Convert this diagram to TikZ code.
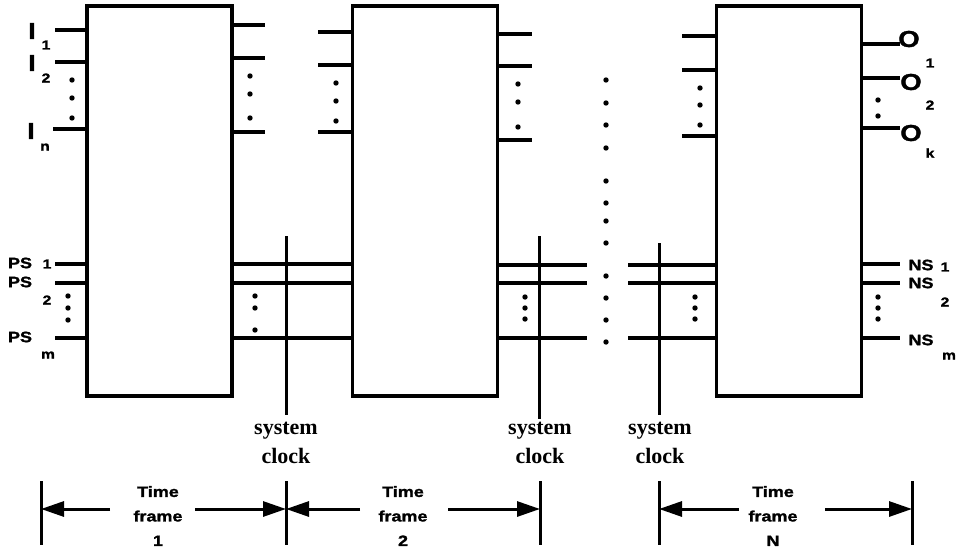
\documentclass[tikz,border=0pt]{standalone}
\usepackage{fontspec}
\setmainfont{Liberation Serif}
\newfontfamily\hv[FakeStretch=1.2,FakeBold=1.5]{Liberation Sans}
\usetikzlibrary{arrows.meta}
\begin{document}
\begin{tikzpicture}[x=1pt,y=-1pt,
  blk/.style={draw,line width=3.2pt,minimum width=145pt,minimum height=390pt,inner sep=0pt},
  pin/.style={line width=3.2pt},
  clk/.style={line width=3pt},
  lbl/.style={font=\hv\bfseries\fontsize{15}{15}\selectfont,inner sep=0pt},
  big/.style={font=\hv\bfseries\fontsize{23}{23}\selectfont,inner sep=0pt},
  subs/.style={font=\hv\bfseries\fontsize{13}{13}\selectfont,inner sep=0pt},
  clktxt/.style={font=\bfseries\fontsize{22}{29}\selectfont,align=center,inner sep=0pt},
  tftxt/.style={font=\hv\bfseries\fontsize{15}{24.5}\selectfont,align=center,inner sep=0pt},
  span/.style={line width=3pt,-{Triangle[length=23pt,width=15pt]}},
  dotr/.style={radius=2.7pt},
]
\useasboundingbox (0,0) rectangle (959,552);

% the three time-frame blocks
\node[blk] (b1) at (159.5,201) {};
\node[blk] (b2) at (425,201) {};
\node[blk] (b3) at (789,201) {};

% primary inputs of frame 1
\coordinate (i1) at (55,30);
\coordinate (i2) at (55,62);
\coordinate (in) at (53,129);
\foreach \c in {i1,i2,in} \draw[pin] (b1.west |- \c) -- (\c);
\node[big] (li1) at (32,31) {I};  \node[subs] (si1) at (46,45) {1};
\node[big] (li2) at (32,63) {I};  \node[subs] (si2) at (46,78) {2};
\node[big] (lin) at (31,131) {I}; \node[subs] (sin) at (45,147) {n};
\foreach \y in {80,98,118} \fill[dotr] (72,\y) circle;

% outputs of frame 1
\coordinate (p1a) at (265,25);
\coordinate (p1b) at (265,58);
\coordinate (p1c) at (265,132);
\foreach \c in {p1a,p1b,p1c} \draw[pin] (b1.east |- \c) -- (\c);
\foreach \y in {76,94,118} \fill[dotr] (250,\y) circle;

% inputs of frame 2
\coordinate (q2a) at (318,32);
\coordinate (q2b) at (318,65);
\coordinate (q2c) at (318,132);
\foreach \c in {q2a,q2b,q2c} \draw[pin] (b2.west |- \c) -- (\c);
\foreach \y in {83,101,121} \fill[dotr] (336,\y) circle;

% outputs of frame 2
\coordinate (p2a) at (532,34);
\coordinate (p2b) at (532,66);
\coordinate (p2c) at (532,140);
\foreach \c in {p2a,p2b,p2c} \draw[pin] (b2.east |- \c) -- (\c);
\foreach \y in {84,102,127} \fill[dotr] (518,\y) circle;

% inputs of frame N
\coordinate (q3a) at (682,36);
\coordinate (q3b) at (682,70);
\coordinate (q3c) at (682,136);
\foreach \c in {q3a,q3b,q3c} \draw[pin] (b3.west |- \c) -- (\c);
\foreach \y in {88,105,125} \fill[dotr] (700,\y) circle;

% primary outputs of frame N
\coordinate (o1) at (900,44);
\coordinate (o2) at (900,78);
\coordinate (ok) at (900,128);
\foreach \c in {o1,o2,ok} \draw[pin] (b3.east |- \c) -- (\c);
\node[big] (lo1) at (909,39) {O};  \node[subs] (so1) at (930,63) {1};
\node[big] (lo2) at (911,82) {O};  \node[subs] (so2) at (930,105) {2};
\node[big] (lok) at (911,133) {O}; \node[subs] (sok) at (930,153) {k};
\foreach \y in {100,116} \fill[dotr] (878,\y) circle;

% present-state lines of frame 1
\coordinate (ps1) at (55,264);
\coordinate (ps2) at (55,283);
\coordinate (psm) at (55,338);
\foreach \c in {ps1,ps2,psm} \draw[pin] (b1.west |- \c) -- (\c);
\node[lbl] (lps1) at (20,263) {PS}; \node[subs] (sps1) at (47,264) {1};
\node[lbl] (lps2) at (20,282) {PS}; \node[subs] (sps2) at (47,300) {2};
\node[lbl] (lpsm) at (20,337) {PS}; \node[subs] (spsm) at (48,355) {m};
\foreach \y in {296,308,320} \fill[dotr] (68,\y) circle;

% state lines from frame 1 to frame 2
\foreach \y in {264,283,338} \draw[pin] (b1.east |- 0,\y) -- (b2.west |- 0,\y);
\foreach \y in {296,308,330} \fill[dotr] (255,\y) circle;

% state lines leaving frame 2
\coordinate (s2a) at (587,265);
\coordinate (s2b) at (587,283);
\coordinate (s2c) at (587,338);
\foreach \c in {s2a,s2b,s2c} \draw[pin] (b2.east |- \c) -- (\c);
\foreach \y in {297,308,319} \fill[dotr] (525,\y) circle;

% state lines entering frame N
\coordinate (s3a) at (628,265);
\coordinate (s3b) at (628,283);
\coordinate (s3c) at (628,338);
\foreach \c in {s3a,s3b,s3c} \draw[pin] (b3.west |- \c) -- (\c);
\foreach \y in {297,308,319} \fill[dotr] (695,\y) circle;

% next-state lines of frame N
\coordinate (ns1) at (900,264);
\coordinate (ns2) at (900,283);
\coordinate (nsm) at (900,338);
\foreach \c in {ns1,ns2,nsm} \draw[pin] (b3.east |- \c) -- (\c);
\node[lbl] (lns1) at (921,265) {NS}; \node[subs] (sns1) at (945,267) {1};
\node[lbl] (lns2) at (921,283) {NS}; \node[subs] (sns2) at (945,302) {2};
\node[lbl] (lnsm) at (921,340) {NS}; \node[subs] (snsm) at (949,356) {m};
\foreach \y in {297,308,319} \fill[dotr] (878,\y) circle;

% omitted frames
\foreach \y in {80,103,125,148,181,203,221,243,276,298,320,342} \fill[dotr] (606,\y) circle;

% system clock lines
\coordinate (c1t) at (286,236); \coordinate (c1b) at (286,415);
\coordinate (c2t) at (539,236); \coordinate (c2b) at (539,419);
\coordinate (c3t) at (659,243); \coordinate (c3b) at (659,415);
\foreach \n in {1,2,3} \draw[clk] (c\n t) -- (c\n b);
\node[clktxt] (ck1) at (286,443) {system\\clock};
\node[clktxt] (ck2) at (540,443) {system\\clock};
\node[clktxt] (ck3) at (660,443) {system\\clock};

% time-frame boundaries
\coordinate (t0) at (41,481);  \coordinate (u0) at (41,545);
\coordinate (t1) at (286,481); \coordinate (u1) at (286,545);
\coordinate (t2) at (540,481); \coordinate (u2) at (540,545);
\coordinate (t3) at (659,481); \coordinate (u3) at (659,545);
\coordinate (t4) at (912,481); \coordinate (u4) at (912,545);
\foreach \n in {0,...,4} \draw[clk] (t\n) -- (u\n);

% time-frame labels and spans
\node[tftxt] (tf1) at (158,516) {Time\\frame\\1};
\node[tftxt] (tf2) at (403,516) {Time\\frame\\2};
\node[tftxt] (tfn) at (773,516) {Time\\frame\\N};
\coordinate (a1l) at (110,509); \coordinate (a1r) at (195,509);
\coordinate (a2l) at (360,509); \coordinate (a2r) at (448,509);
\coordinate (anl) at (739,509); \coordinate (anr) at (825,509);
\draw[span] (a1l) -- (t0 |- a1l);
\draw[span] (a1r) -- (t1 |- a1r);
\draw[span] (a2l) -- (t1 |- a2l);
\draw[span] (a2r) -- (t2 |- a2r);
\draw[span] (anl) -- (t3 |- anl);
\draw[span] (anr) -- (t4 |- anr);
\end{tikzpicture}
\end{document}
